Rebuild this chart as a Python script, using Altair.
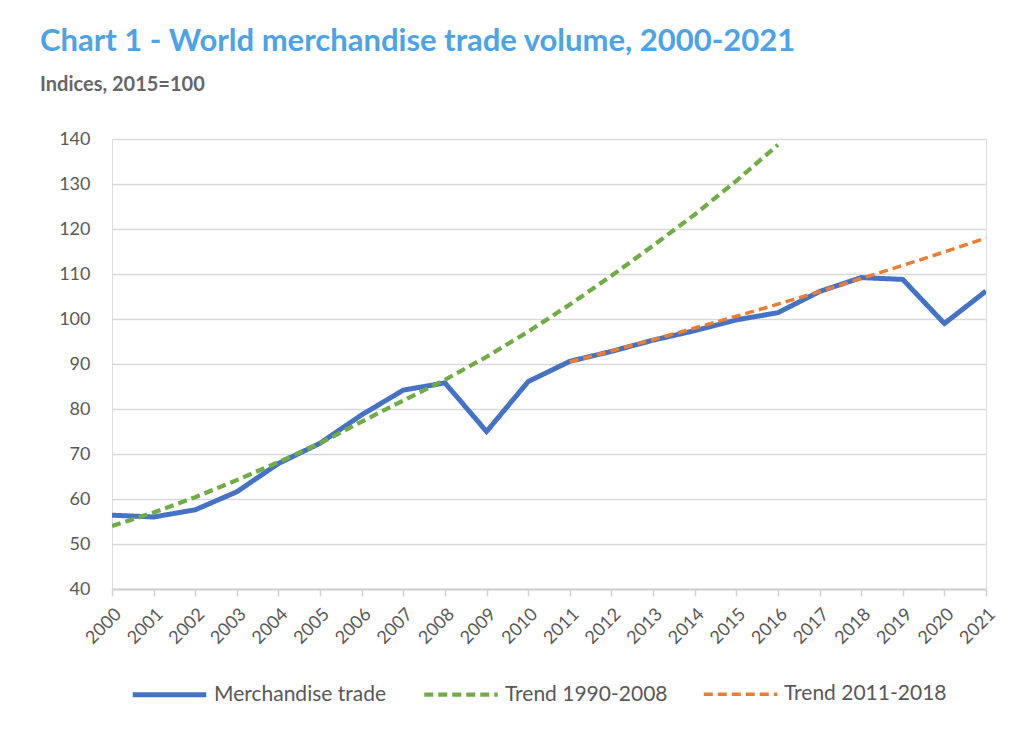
import altair as alt
import pandas as pd

years = list(range(2000, 2022))
merch = [56.4, 56.0, 57.6, 61.6, 67.9, 72.4, 78.7, 84.2, 85.8, 75.0, 86.1,
         90.6, 92.8, 95.3, 97.4, 99.8, 101.4, 106.1, 109.2, 108.8, 99.0, 106.2]
trend1_years = list(range(2000, 2017))
trend1 = [54.0, 57.0, 60.4, 64.2, 68.2, 72.4, 77.2, 81.9, 86.5, 91.6, 97.2,
          103.2, 109.6, 116.3, 123.2, 130.7, 138.7]
trend2_years = list(range(2011, 2022))
trend2 = [90.5, 92.9, 95.4, 98.0, 100.6, 103.3, 106.1, 109.0, 111.9, 114.9, 118.0]

series_names = ["Merchandise trade", "Trend 1990-2008", "Trend 2011-2018"]
series_colors = ["#4472C4", "#70AD47", "#ED7D31"]
y_ticks = list(range(40, 150, 10))

rows = []
for y, v in zip(years, merch):
    rows.append({"year": y, "value": v, "series": series_names[0]})
for y, v in zip(trend1_years, trend1):
    rows.append({"year": y, "value": v, "series": series_names[1]})
for y, v in zip(trend2_years, trend2):
    rows.append({"year": y, "value": v, "series": series_names[2]})
df = pd.DataFrame(rows)

FONT = "Lato"
GRAY = "#595959"

color = alt.Color("series:N", scale=alt.Scale(domain=series_names, range=series_colors),
                  legend=alt.Legend(title=None, orient="none", legendX=18, legendY=516,
                                    direction="horizontal", symbolType="stroke",
                                    symbolSize=5400, labelFontSize=21, labelFont=FONT,
                                    labelColor=GRAY, columnPadding=28, labelOffset=5,
                                    labelLimit=300))
dash = alt.StrokeDash("series:N", scale=alt.Scale(domain=series_names,
                                                  range=[[1, 0], [9, 5], [9, 5]]),
                      legend=None)
width = alt.StrokeWidth("series:N", scale=alt.Scale(domain=series_names, range=[5, 3.5, 3.5]),
                        legend=None)

x = alt.X("year:Q", scale=alt.Scale(domain=[2000, 2021], nice=False),
          axis=alt.Axis(title=None, values=years, format="d", labelAngle=-45,
                        labelFontSize=18, labelFont=FONT, labelColor=GRAY,
                        labelOverlap=False, labelFlush=False,
                        tickColor="#d0d0d0", tickSize=7, tickWidth=1.5,
                        domainColor="#d0d0d0", domainWidth=2, grid=False,
                        labelPadding=9))
y = alt.Y("value:Q", scale=alt.Scale(domain=[40, 140], nice=False),
          axis=alt.Axis(title=None, values=y_ticks, labelFontSize=18, labelFont=FONT,
                        labelColor=GRAY, ticks=False, domain=False, gridColor="#d9d9d9",
                        gridWidth=1.5, labelPadding=22))

base = alt.Chart(df)
blue = base.transform_filter(alt.datum.series == series_names[0]).mark_line(clip=True).encode(
    x=x, y=y, color=color, strokeDash=dash, strokeWidth=width)
trends = base.transform_filter(alt.datum.series != series_names[0]).mark_line(clip=True).encode(
    x=x, y=y, color=color, strokeDash=dash, strokeWidth=width, detail="series:N")

chart = alt.layer(blue, trends).properties(
    width=874, height=450,
    padding={"left": 104, "top": 131, "right": 30, "bottom": 140},
    autosize=alt.AutoSizeParams(type="none"),
    title=alt.TitleParams(
        "Chart 1 - World merchandise trade volume, 2000-2021",
        subtitle="Indices, 2015=100",
        anchor="start", frame="group", dx=-72, offset=34,
        font=FONT, fontSize=31, fontWeight="bold", color="#4DA3E6",
        subtitleFont=FONT, subtitleFontSize=20, subtitleFontWeight="bold",
        subtitleColor="#666666", subtitlePadding=17),
).configure_view(stroke="#d0d0d0", strokeWidth=2).configure(background="white")

chart.save("out.html", embed_options={"renderer": "svg", "actions": False})
